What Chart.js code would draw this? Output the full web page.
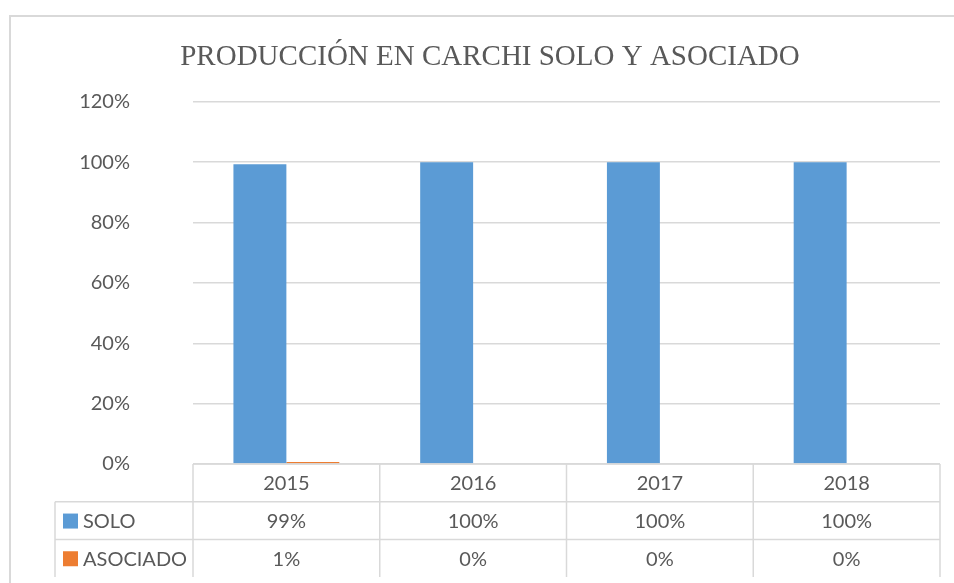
<!DOCTYPE html>
<html>
<head>
<meta charset="utf-8">
<script src="https://cdn.jsdelivr.net/npm/chart.js@4.4.1/dist/chart.umd.min.js"></script>
<style>
  html, body { margin: 0; padding: 0; background: #fff; }
  #wrap { width: 954px; height: 583px; position: relative; }
</style>
</head>
<body>
<div id="wrap"><canvas id="chart"></canvas></div>
<script>
// Producción en Carchi - solo vs asociado
const YEARS = ['2015', '2016', '2017', '2018'];
const SOLO = [0.993, 1, 1, 1];
const ASOCIADO = [0.007, 0, 0, 0];
const SERIES_NAMES = ['SOLO', 'ASOCIADO'];
const SERIES_COLORS = ['#5B9BD5', '#ED7D31'];
const Y_TICKS = [0, 0.2, 0.4, 0.6, 0.8, 1.0, 1.2];

const TEXT = '#595959';
const LINE = '#d9d9d9';
const FONT = 'Lato, "Liberation Sans", sans-serif';
const PAD_LEFT = 40;

function fmtPct(v) {
  return Math.round(v * 100) + '%';
}

// outer frame of the chart object
const framePlugin = {
  id: 'frame',
  beforeDraw(chart) {
    const c = chart.ctx;
    c.save();
    c.strokeStyle = LINE;
    c.lineWidth = 2;
    c.beginPath();
    c.moveTo(10, chart.height);
    c.lineTo(10, 16);
    c.lineTo(chart.width, 16);
    c.stroke();
    c.restore();
  }
};

// data table under the plot, columns follow the x scale
const tablePlugin = {
  id: 'dataTable',
  afterDraw(chart) {
    const c = chart.ctx;
    const xs = chart.scales.x;
    const area = chart.chartArea;
    const n = YEARS.length;
    const colW = (area.right - area.left) / n;
    const rowH = 37.7;
    const top = area.bottom;
    const legendLeft = 55;
    const rows = [SOLO, ASOCIADO];

    c.save();
    c.strokeStyle = LINE;
    c.lineWidth = 1.5;
    c.beginPath();
    // horizontal lines
    c.moveTo(area.left, top); c.lineTo(area.right, top);
    for (let r = 1; r <= rows.length; r++) {
      c.moveTo(legendLeft, top + r * rowH);
      c.lineTo(area.right, top + r * rowH);
    }
    // vertical lines
    const bottom = top + (rows.length + 1) * rowH;
    for (let i = 0; i <= n; i++) {
      const x = area.left + i * colW;
      c.moveTo(x, top); c.lineTo(x, bottom);
    }
    c.moveTo(legendLeft, top + rowH); c.lineTo(legendLeft, bottom);
    c.stroke();

    c.fillStyle = TEXT;
    c.font = '20px ' + FONT;
    c.textAlign = 'center';
    c.textBaseline = 'middle';
    YEARS.forEach((y, i) => {
      c.fillText(y, xs.getPixelForValue(i), top + rowH / 2 + 1);
    });
    rows.forEach((vals, r) => {
      const cy = top + (r + 1.5) * rowH + 1;
      vals.forEach((v, i) => {
        c.fillStyle = TEXT;
        c.textAlign = 'center';
        c.fillText(fmtPct(v), xs.getPixelForValue(i), cy);
      });
      c.fillStyle = SERIES_COLORS[r];
      c.fillRect(63, cy - 8, 15, 15);
      c.fillStyle = TEXT;
      c.textAlign = 'left';
      c.fillText(SERIES_NAMES[r], 83, cy);
    });
    c.restore();
  }
};

new Chart(document.getElementById('chart'), {
  type: 'bar',
  data: {
    labels: YEARS,
    datasets: [
      { label: SERIES_NAMES[0], data: SOLO, backgroundColor: SERIES_COLORS[0] },
      { label: SERIES_NAMES[1], data: ASOCIADO, backgroundColor: SERIES_COLORS[1] },
    ],
  },
  options: {
    responsive: true, maintainAspectRatio: false, animation: false,
    layout: { padding: { left: PAD_LEFT, right: 14, top: 0, bottom: 119 } },
    datasets: { bar: { categoryPercentage: 0.567, barPercentage: 1.0 } },
    plugins: {
      legend: { display: false },
      tooltip: { enabled: false },
      title: {
        display: true,
        text: 'PRODUCCIÓN EN CARCHI SOLO Y ASOCIADO',
        color: TEXT,
        font: { family: '"Liberation Serif", "Times New Roman", serif', size: 29, weight: 'normal' },
        padding: { top: 40, bottom: 27 },
      },
    },
    scales: {
      x: { display: false },
      y: {
        min: 0, max: 1.2,
        afterFit: (s) => { s.width = 193 - PAD_LEFT; },
        afterBuildTicks: (s) => { s.ticks = Y_TICKS.map(v => ({ value: v })); },
        border: { display: false },
        grid: { color: LINE, lineWidth: 1.5, drawTicks: false },
        ticks: {
          color: TEXT, padding: 63,
          font: { family: FONT, size: 20 },
          callback: (v) => fmtPct(v),
        },
      },
    },
  },
  plugins: [framePlugin, tablePlugin],
});
</script>
</body>
</html>
